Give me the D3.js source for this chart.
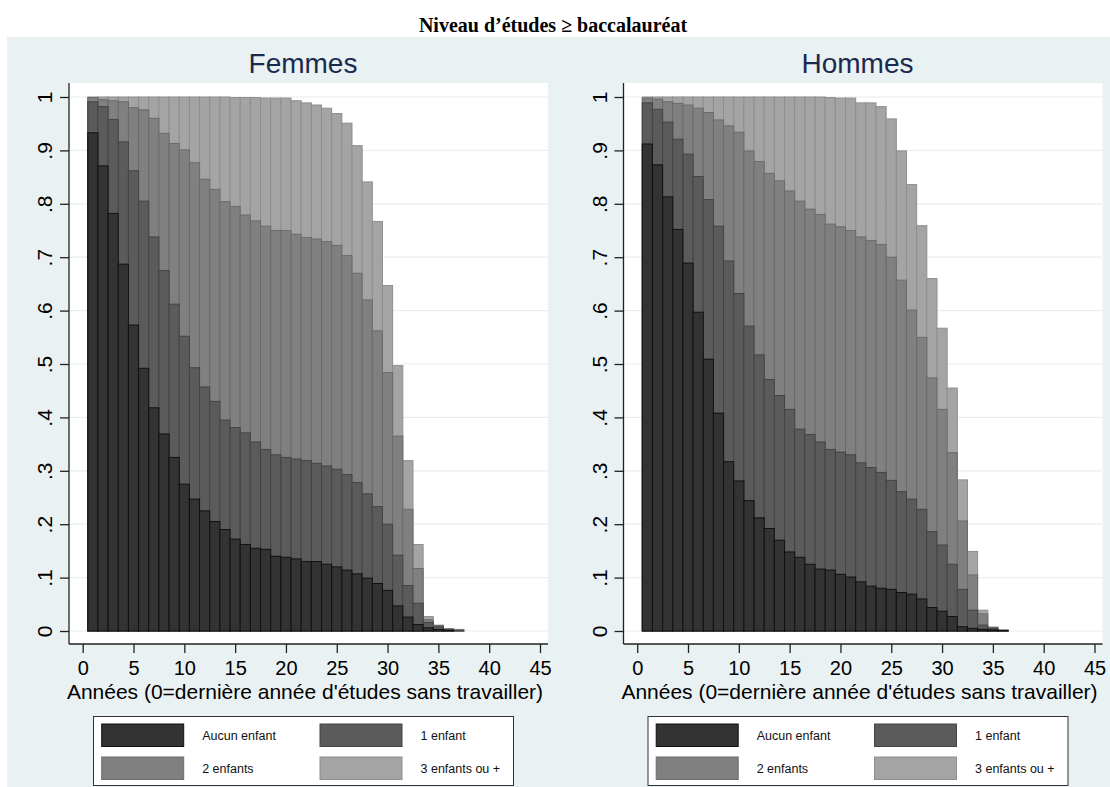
<!DOCTYPE html>
<html><head><meta charset="utf-8">
<script src="https://cdn.jsdelivr.net/npm/d3@7"></script>
<style>body{margin:0;background:#fff}svg{display:block}</style>
</head><body>
<svg id="c" width="1110" height="787"></svg>
<script>
// ---------- data ----------
const mainTitle = "Niveau d\u2019études \u2265 baccalauréat";
const panelTitles = ["Femmes", "Hommes"];
const xAxisTitle = "Années (0=dernière année d'études sans travailler)";
const xTickValues = [0, 5, 10, 15, 20, 25, 30, 35, 40, 45];
const yTickValues = [0, .1, .2, .3, .4, .5, .6, .7, .8, .9, 1];
const yTickLabels = ["0", ".1", ".2", ".3", ".4", ".5", ".6", ".7", ".8", ".9", "1"];
const seriesNames = ["Aucun enfant", "1 enfant", "2 enfants", "3 enfants ou +"];

const femmesYears = d3.range(1, 38);
const femmesAucun = [.933,.871,.782,.687,.573,.492,.418,.369,.325,.275,.247,.225,.205,.190,.172,.162,.155,.153,.140,.138,.135,.130,.130,.125,.120,.114,.107,.099,.089,.076,.047,.026,.012,.006,.003,.001,0];
const femmesUn    = [.991,.982,.958,.916,.862,.805,.738,.675,.612,.552,.493,.457,.430,.395,.381,.371,.354,.340,.330,.325,.322,.319,.314,.309,.303,.293,.278,.257,.233,.200,.142,.085,.052,.016,.008,.003,.001];
const femmesDeux  = [.999,.995,.993,.991,.980,.976,.960,.932,.913,.901,.877,.846,.827,.804,.795,.779,.768,.758,.750,.750,.743,.737,.734,.729,.722,.703,.670,.620,.562,.484,.365,.228,.117,.021,.010,.004,.002];
const femmesTrois = [1,1,1,1,1,1,1,1,1,1,1,1,1,1,.999,.999,.999,.998,.998,.998,.993,.989,.985,.979,.969,.951,.909,.841,.767,.647,.497,.319,.162,.027,.011,.004,.003];

const hommesYears = d3.range(1, 37);
const hommesAucun = [.912,.873,.813,.752,.689,.597,.509,.408,.317,.281,.244,.212,.192,.170,.148,.138,.125,.116,.114,.106,.101,.092,.084,.080,.078,.072,.069,.060,.044,.037,.027,.008,.005,.003,.002,.001];
const hommesUn    = [.989,.977,.953,.921,.893,.851,.808,.758,.693,.632,.571,.517,.471,.441,.415,.378,.368,.354,.340,.335,.330,.315,.306,.297,.282,.261,.247,.228,.186,.161,.125,.078,.039,.011,.005,.001];
const hommesDeux  = [.998,.996,.991,.988,.985,.979,.971,.957,.946,.934,.899,.879,.857,.843,.824,.805,.790,.780,.762,.757,.750,.738,.731,.724,.700,.657,.601,.550,.474,.415,.334,.206,.105,.032,.007,.002];
const hommesTrois = [1,1,1,1,1,1,1,1,1,1,1,1,1,1,1,1,1,1,.999,.998,.998,.989,.989,.982,.959,.899,.836,.759,.660,.567,.455,.283,.149,.039,.007,.001];

// ---------- style ----------
const fills   = ["#333333", "#5b5b5b", "#808080", "#a4a4a4"];
const strokes = ["#111111", "#444444", "#6b6b6b", "#8e8e8e"];
const bg = "#eaf1f3";
const font = "'Liberation Sans', Arial, sans-serif";

const panels = [
  {title: panelTitles[0], years: femmesYears, series: [femmesAucun, femmesUn, femmesDeux, femmesTrois], dx: 0},
  {title: panelTitles[1], years: hommesYears, series: [hommesAucun, hommesUn, hommesDeux, hommesTrois], dx: 554.5}
];

const svg = d3.select("#c");
svg.append("rect").attr("x", 0).attr("y", 0).attr("width", 1110).attr("height", 787).attr("fill", "#fff");
svg.append("rect").attr("x", 7).attr("y", 37).attr("width", 1103).attr("height", 750).attr("fill", bg);

svg.append("text").attr("x", 553).attr("y", 32).attr("text-anchor", "middle")
  .attr("font-family", "'Liberation Serif', 'Times New Roman', serif").attr("font-weight", "bold")
  .attr("font-size", 20).attr("fill", "#000").text(mainTitle);

panels.forEach(p => {
  const g = svg.append("g").attr("transform", `translate(${p.dx},0)`);
  const left = 69, right = 548, top = 83, bottom = 644;
  const x = d3.scaleLinear().domain([0, 45]).range([82.7, 540]);
  const y = d3.scaleLinear().domain([0, 1]).range([631, 97]);

  // plot region
  g.append("rect").attr("x", left).attr("y", top).attr("width", right - left).attr("height", bottom - top).attr("fill", "#fff");
  // gridlines
  g.append("g").selectAll("line").data(yTickValues).join("line")
    .attr("x1", left).attr("x2", right).attr("y1", d => y(d)).attr("y2", d => y(d))
    .attr("stroke", "#e6eef1").attr("stroke-width", 1.2);

  // bars: back to front
  for (let s = 3; s >= 0; s--) {
    const vals = p.series[s];
    g.append("g").selectAll("rect").data(p.years.map((yr, i) => ({yr, v: vals[i]})).filter(d => d.v > 0))
      .join("rect")
      .attr("x", d => x(d.yr - 0.5))
      .attr("width", d => x(d.yr + 0.5) - x(d.yr - 0.5))
      .attr("y", d => y(d.v))
      .attr("height", d => y(0) - y(d.v))
      .attr("fill", fills[s]).attr("stroke", strokes[s]).attr("stroke-width", 1);
  }

  // y axis
  const ya = g.append("g").attr("transform", `translate(${left},0)`)
    .call(d3.axisLeft(y).tickValues(yTickValues).tickFormat((d, i) => yTickLabels[i]).tickSize(9).tickPadding(0));
  ya.select(".domain").attr("d", `M0,${top}V${bottom}`).attr("stroke", "#222").attr("stroke-width", 1.3);
  ya.selectAll(".tick line").attr("stroke", "#222").attr("stroke-width", 1.3);
  ya.selectAll(".tick text").attr("font-family", font).attr("font-size", 21).attr("fill", "#000")
    .attr("text-anchor", "middle").attr("x", null).attr("dy", null)
    .attr("transform", "translate(-17,0) rotate(-90)");

  // x axis
  const xa = g.append("g").attr("transform", `translate(0,${bottom})`)
    .call(d3.axisBottom(x).tickValues(xTickValues).tickSize(9).tickPadding(8));
  xa.select(".domain").attr("d", `M${left},0H${right}`).attr("stroke", "#222").attr("stroke-width", 1.3);
  xa.selectAll(".tick line").attr("stroke", "#222").attr("stroke-width", 1.3);
  xa.selectAll(".tick text").attr("font-family", font).attr("font-size", 20).attr("fill", "#000");

  g.append("text").attr("x", 305).attr("y", 699).attr("text-anchor", "middle")
    .attr("font-family", font).attr("font-size", 21).attr("fill", "#000").text(xAxisTitle);

  g.append("text").attr("x", 303).attr("y", 73).attr("text-anchor", "middle")
    .attr("font-family", font).attr("font-size", 28).attr("fill", "#1a2a4f").text(p.title);

  // legend
  const lg = g.append("g");
  lg.append("rect").attr("x", 93.5).attr("y", 716.5).attr("width", 420).attr("height", 69)
    .attr("fill", "#fff").attr("stroke", "#333").attr("stroke-width", 1);
  const cols = [101.7, 320], rows = [724, 757];
  seriesNames.forEach((name, i) => {
    const cx = cols[i % 2], cy = rows[Math.floor(i / 2)];
    lg.append("rect").attr("x", cx).attr("y", cy).attr("width", 82).attr("height", 22.5)
      .attr("fill", fills[i]).attr("stroke", strokes[i]).attr("stroke-width", 1);
    lg.append("text").attr("x", cx + 100.5).attr("y", cy + 11.5).attr("dy", "0.35em")
      .attr("font-family", font).attr("font-size", 12.5).attr("fill", "#111").text(name);
  });
});
</script>
</body></html>
